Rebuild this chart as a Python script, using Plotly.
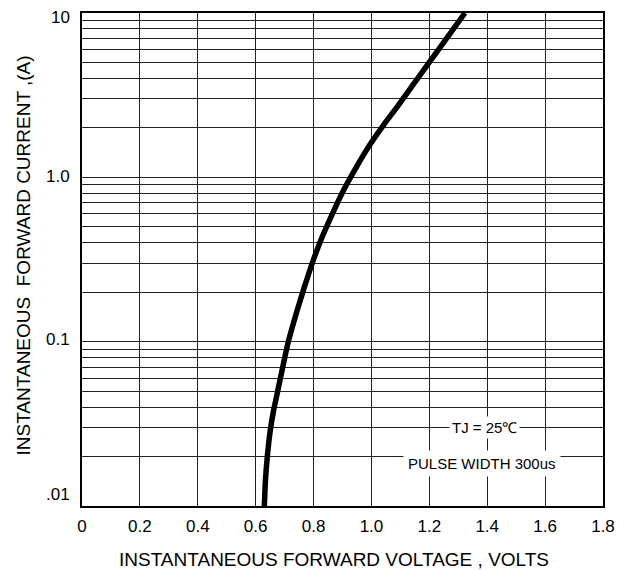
import math
import plotly.graph_objects as go

# Forward characteristic
voltage = [0.630, 0.634, 0.641, 0.650, 0.662, 0.675, 0.694, 0.713, 0.742, 0.769,
           0.797, 0.829, 0.867, 0.905, 0.947, 0.995, 1.043, 1.092, 1.144, 1.199,
           1.259, 1.323]
current = [0.0100, 0.01454, 0.02063, 0.02846, 0.03819, 0.04892, 0.07068, 0.1003, 0.1521, 0.2168,
           0.3062, 0.4302, 0.6106, 0.8427, 1.147, 1.582, 2.093, 2.732, 3.665, 4.986,
           6.978, 10.0]

x_ticks = [0, 0.2, 0.4, 0.6, 0.8, 1.0, 1.2, 1.4, 1.6, 1.8]
x_ticktext = ["0", "0.2", "0.4", "0.6", "0.8", "1.0", "1.2", "1.4", "1.6", "1.8"]
y_ticks = [0.01, 0.1, 1, 10]
y_ticktext = [".01", "0.1", "1.0", "10"]
decades = [0.01, 0.1, 1]
multipliers = [2, 3, 4, 5, 6, 7, 8, 9]
y_minor = [d * m for d in decades for m in multipliers]

# vertical nudges of the y tick labels as drawn in the reference (pixels)
y_label_nudge = [11.7, 1.7, 1.0, -4.5]

FONT = "Liberation Sans, Arial, sans-serif"
GRID = "#222222"

fig = go.Figure()
fig.add_trace(go.Scatter(
    x=voltage, y=current, mode="lines",
    line=dict(color="black", width=5.5, shape="spline", smoothing=0.6),
    hoverinfo="skip", showlegend=False,
))

# page has an 8px body margin, so the figure is made 8px smaller
fig.update_layout(
    width=616, height=563,
    margin=dict(l=74, r=21, t=5, b=65, autoexpand=False),
    paper_bgcolor="white", plot_bgcolor="white",
    font=dict(family=FONT, color="black", size=17),
    showlegend=False,
)

fig.update_xaxes(
    range=[0, 1.8], tickvals=x_ticks, ticktext=x_ticktext,
    showgrid=True, gridcolor=GRID, gridwidth=1,
    showline=True, linecolor="black", linewidth=1.5, mirror=True,
    ticks="", zeroline=False, automargin=False,
    tickfont=dict(size=17, family=FONT), ticklabelstandoff=4,
)
fig.update_yaxes(
    type="log", range=[-2, 1], tickvals=y_ticks, ticktext=y_ticktext,
    showticklabels=False,
    showgrid=True, gridcolor=GRID, gridwidth=1,
    minor=dict(tickvals=y_minor, showgrid=True, gridcolor=GRID, gridwidth=1, ticks=""),
    showline=True, linecolor="black", linewidth=1.5, mirror=True,
    ticks="", zeroline=False, automargin=False,
)

# y tick labels (drawn as text so the top "10" is not dropped at the edge)
for val, txt, nudge in zip(y_ticks, y_ticktext, y_label_nudge):
    fig.add_annotation(
        text=txt, xref="paper", yref="y", x=0, y=math.log10(val),
        xanchor="right", yanchor="middle", xshift=-10, yshift=nudge,
        showarrow=False, font=dict(size=17, family=FONT),
    )

# Axis titles
fig.add_annotation(
    text="INSTANTANEOUS FORWARD VOLTAGE , VOLTS",
    xref="paper", yref="paper", x=0.4846, y=0, yshift=-53,
    xanchor="center", yanchor="middle", showarrow=False,
    font=dict(size=19, family=FONT),
)
fig.add_annotation(
    text="INSTANTANEOUS  FORWARD CURRENT ,(A)",
    xref="paper", yref="paper", x=0, y=0.5, xshift=-59, yshift=4,
    xanchor="center", yanchor="middle", textangle=-90, showarrow=False,
    font=dict(size=19, family=FONT),
)

# Condition labels
fig.add_annotation(
    text="TJ = 25℃", x=1.392, y=-1.523, xref="x", yref="y",
    showarrow=False, bgcolor="white", borderpad=2,
    font=dict(size=15, family=FONT),
)
fig.add_annotation(
    text="PULSE WIDTH 300us", x=1.381, y=-1.743, xref="x", yref="y",
    showarrow=False, bgcolor="white", borderpad=4,
    font=dict(size=15, family=FONT),
)

fig.write_html("out.html")
